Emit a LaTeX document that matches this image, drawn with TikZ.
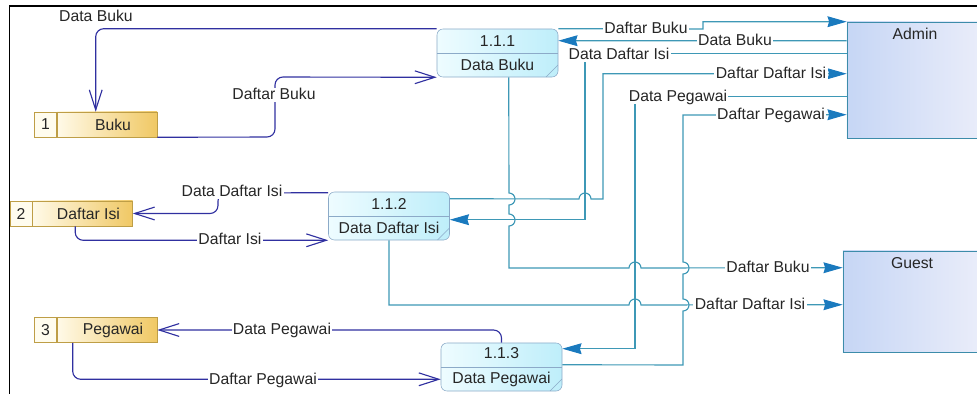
\documentclass[tikz,border=0pt]{standalone}
\usepackage{fontspec}
\setmainfont{Liberation Sans}
\usetikzlibrary{calc,positioning,arrows.meta}

\definecolor{sflowc}{RGB}{48,48,160}
\definecolor{eflowc}{RGB}{62,152,182}
\definecolor{tipc}{RGB}{26,122,190}
\definecolor{procline}{RGB}{140,170,200}
\definecolor{procl}{RGB}{238,252,255}
\definecolor{procr}{RGB}{190,238,250}
\definecolor{storeline}{RGB}{190,158,70}
\definecolor{storel}{RGB}{255,250,232}
\definecolor{storer}{RGB}{240,200,100}
\definecolor{storenumc}{RGB}{255,252,238}
\definecolor{entline}{RGB}{60,140,170}
\definecolor{entl}{RGB}{198,214,245}
\definecolor{entr}{RGB}{234,237,250}

\tikzstyle{every node}+=[inner sep=1pt,font=\fontsize{11.2}{13}\selectfont,text=black!85]
\tikzstyle{process}=[rectangle,rounded corners=0.15cm,draw=procline,left color=procl,right color=procr,
  minimum width=3.025cm,minimum height=1.2cm,align=center,font=\fontsize{11.2}{17.5}\selectfont,
  path picture={\draw[procline] (path picture bounding box.west) -- (path picture bounding box.east);
    \draw[procline] ([xshift=-0.3cm]path picture bounding box.south east) -- ([yshift=0.3cm]path picture bounding box.south east);}]
\tikzstyle{store}=[rectangle,draw=storeline,left color=storel,right color=storer,
  minimum width=2.5cm,minimum height=0.625cm,inner sep=0pt]
\tikzstyle{storenum}=[rectangle,draw=storeline,fill=storenumc,minimum width=0.55cm,minimum height=0.625cm,inner sep=0pt]
\tikzstyle{entity}=[rectangle,draw=entline,left color=entl,right color=entr,inner sep=0pt]
\tikzstyle{sflow}=[draw=sflowc,line width=0.8pt,rounded corners=0.2cm,-{Straight Barb[length=0.5cm,width=0.32cm]}]
\tikzstyle{eflow}=[draw=eflowc,line width=0.8pt,-{Stealth[length=0.48cm,width=0.27cm,inset=0.04cm,color=tipc]}]
\tikzstyle{lbl}=[fill=white,inner sep=1pt,text height=0.72em,text depth=0.1em]

\begin{document}
\begin{tikzpicture}[x=0.025cm,y=-0.025cm]
\useasboundingbox (0,0) rectangle (977,394);
\draw[line width=1.4pt] (977,6) -- (9.5,6) -- (9.5,394);

% processes
\node[process] (p1) at (497.5,53) {1.1.1\\Data Buku};
\node[process] (p2) at (389,216) {1.1.2\\Data Daftar Isi};
\node[process] (p3) at (501.5,367) {1.1.3\\Data Pegawai};

% data stores
\node[store] (s1) at (107,124.5) {\hspace*{0.3cm}Buku};
\node[storenum,left=0pt of s1] (n1) {1};
\node[store] (s2) at (82.5,213.5) {\hspace*{0.3cm}Daftar Isi};
\node[storenum,left=0pt of s2] (n2) {2};
\node[store] (s3) at (107,330) {\hspace*{0.3cm}Pegawai};
\node[storenum,left=0pt of s3] (n3) {3};

% external entities
\node[entity,minimum width=3.4cm,minimum height=2.9cm,
  label={[anchor=north,yshift=-0.12cm]north:Admin}] (admin) at (915,80) {};
\node[entity,minimum width=3.45cm,minimum height=2.525cm,
  label={[anchor=north,yshift=-0.12cm]north:Guest}] (guest) at (912,301.5) {};

% store flows
\draw[sflow] (p1.north west) -| ($(n1.north west)!0.5!(s1.north east)$);
\draw[sflow] (s1.south east) -- (275,137) -- (275,77) -- (p1.south west);
\draw[sflow] ($(p2.north west)+(0,1)$) -- (218,193) -- (218,213.5) -- (s2.east);
\draw[sflow] ($(s2.south west)+(43,0)$) |- (p2.south west);
\draw[sflow] (p3.north) |- (s3.east);
\draw[sflow] ($(s3.south west)+(16,0)$) |- ($(p3.south west)+(0,-12)$);

% entity flows
\draw[eflow] (p1.north east) -- (703,29) |- (admin.north west);
\draw[eflow] ($(admin.north west)+(0,19)$) -- ($(p1.north east)+(0,12)$);
\draw[eflow] ($(admin.north west)+(0,32)$) -| (585,120) |- ($(p2.north east)+(0,28)$);
\draw[eflow] ($(p2.north east)+(0,7)$) -- (579,199) arc[start angle=180,end angle=0,radius=0.15cm]
  -- (603,199) |- ($(admin.north west)+(0,52)$);
\draw[eflow] ($(admin.north west)+(0,75)$) -| (635,200) |- ($(p3.north east)+(0,6)$);
\draw[eflow] ($(p3.north east)+(0,22)$) -- (683,365) -- (683,311)
  arc[start angle=-90,end angle=90,radius=0.15cm] -- (683,274)
  arc[start angle=-90,end angle=90,radius=0.15cm] -- (683,115) -- ($(admin.north west)+(0,93)$);
\draw[eflow] ($(p1.south west)+(72,0)$) -- (509,193)
  arc[start angle=90,end angle=-90,radius=0.15cm] -- (509,214)
  arc[start angle=90,end angle=-90,radius=0.15cm] -- (509,268) -- (629,268)
  arc[start angle=180,end angle=0,radius=0.15cm] -- ($(guest.north west)+(0,17)$);
\draw[eflow] (p2.south) |- (629,305) arc[start angle=180,end angle=0,radius=0.15cm]
  -- ($(guest.north west)+(0,54)$);

% labels
\node[lbl,fill=none] at (96,17) {Data Buku};
\node[lbl] at (274,95) {Daftar Buku};
\node[lbl] at (232,192) {Data Daftar Isi};
\node[lbl] at (230,240) {Daftar Isi};
\node[lbl] at (282,330) {Data Pegawai};
\node[lbl] at (263,380) {Daftar Pegawai};
\node[lbl] at (646,29) {Daftar Buku};
\node[lbl] at (735,41) {Data Buku};
\node[lbl] at (619,55) {Data Daftar Isi};
\node[lbl] at (771,74) {Daftar Daftar Isi};
\node[lbl] at (678,97) {Data Pegawai};
\node[lbl] at (771,115) {Daftar Pegawai};
\node[lbl] at (768,268) {Daftar Buku};
\node[lbl] at (750,305) {Daftar Daftar Isi};
\end{tikzpicture}
\end{document}
